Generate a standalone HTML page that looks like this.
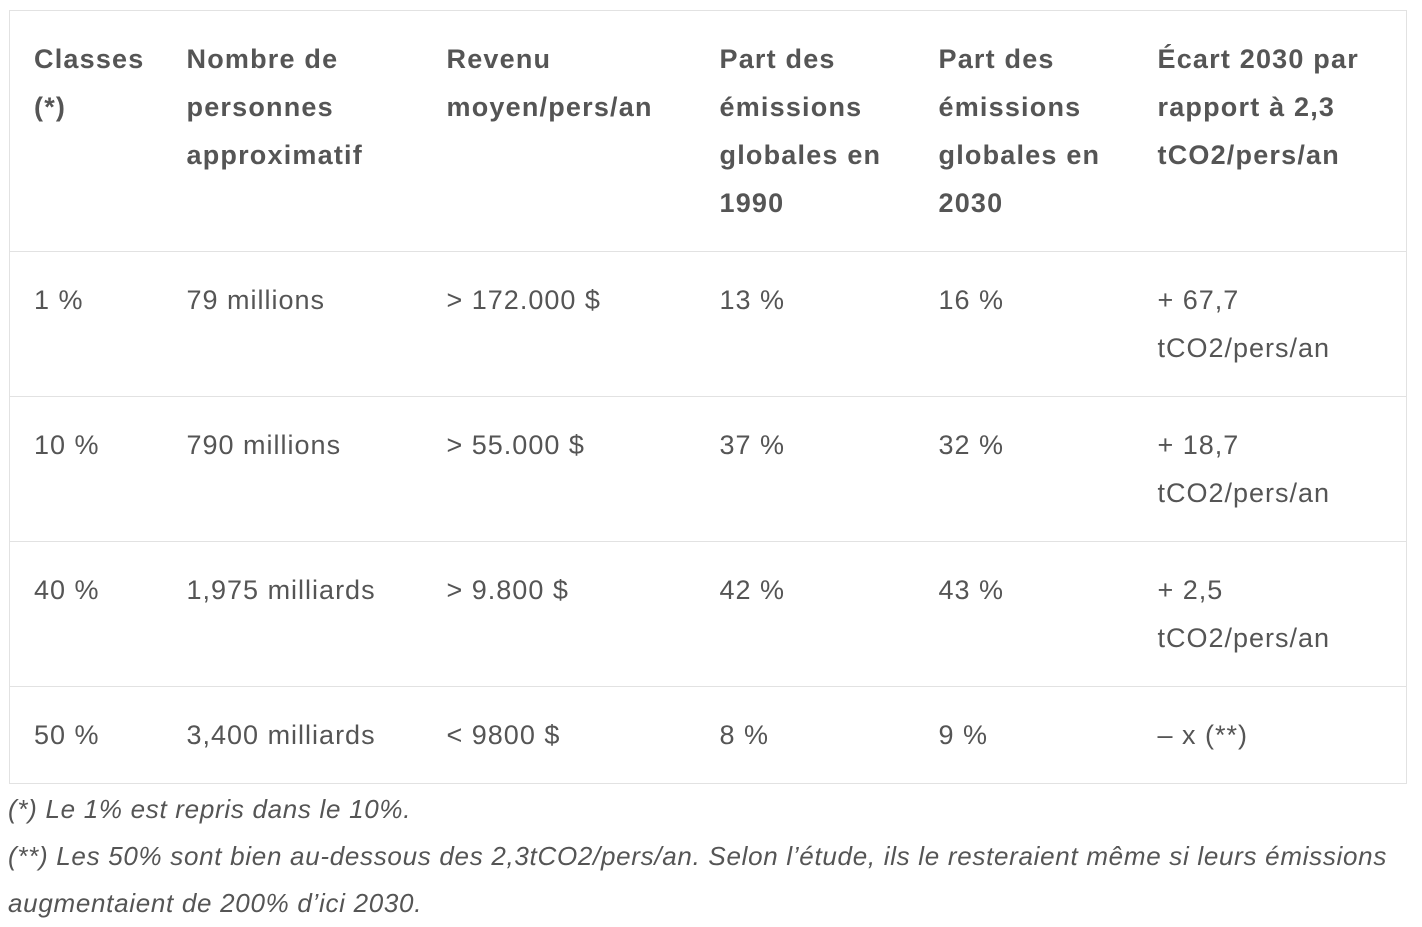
<!DOCTYPE html>
<html><head><meta charset="utf-8"><style>
html,body{margin:0;padding:0;background:#fff;width:1422px;height:926px;overflow:hidden}
body{font-family:"Liberation Sans","DejaVu Sans",sans-serif;color:#555}
table{position:absolute;left:9px;top:10px;border-collapse:collapse;table-layout:fixed;width:1397px;border:1px solid #e2e2e2}
td,th{padding:24px 6px 24px 24px;font-size:27px;letter-spacing:1px;line-height:48px;text-align:left;vertical-align:top;white-space:nowrap;overflow:hidden}
th{font-weight:bold;letter-spacing:1.2px}
tr{border-bottom:1px solid #e2e2e2}
.notes{position:absolute;left:8px;top:786px;font-style:italic;font-size:26px;letter-spacing:0.7px;line-height:47px;color:#555;white-space:nowrap}
</style></head><body>
<table>
<colgroup><col style="width:153px"><col style="width:260px"><col style="width:273px"><col style="width:219px"><col style="width:219px"><col style="width:273px"></colgroup>
<tr>
<th>Classes<br>(*)</th>
<th>Nombre de<br>personnes<br>approximatif</th>
<th>Revenu<br>moyen/pers/an</th>
<th>Part des<br>émissions<br>globales en<br>1990</th>
<th>Part des<br>émissions<br>globales en<br>2030</th>
<th>Écart 2030 par<br>rapport à 2,3<br>tCO2/pers/an</th>
</tr>
<tr><td>1 %</td><td>79 millions</td><td>&gt; 172.000 $</td><td>13 %</td><td>16 %</td><td>+ 67,7<br>tCO2/pers/an</td></tr>
<tr><td>10 %</td><td>790 millions</td><td>&gt; 55.000 $</td><td>37 %</td><td>32 %</td><td>+ 18,7<br>tCO2/pers/an</td></tr>
<tr><td>40 %</td><td>1,975 milliards</td><td>&gt; 9.800 $</td><td>42 %</td><td>43 %</td><td>+ 2,5<br>tCO2/pers/an</td></tr>
<tr><td>50 %</td><td>3,400 milliards</td><td>&lt; 9800 $</td><td>8 %</td><td>9 %</td><td>– x (**)</td></tr>
</table>
<div class="notes">
<div>(*) Le 1% est repris dans le 10%.</div>
<div>(**) Les 50% sont bien au-dessous des 2,3tCO2/pers/an. Selon l’étude, ils le resteraient même si leurs émissions<br>augmentaient de 200% d’ici 2030.</div>
</div>
</body></html>
